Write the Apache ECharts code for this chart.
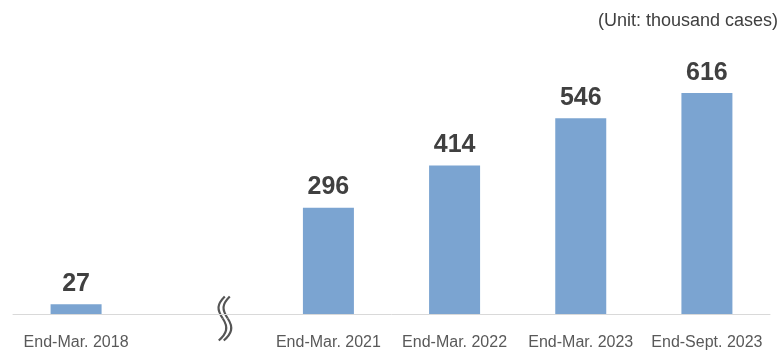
<!DOCTYPE html>
<html>
<head>
<meta charset="utf-8">
<script src="https://cdn.jsdelivr.net/npm/echarts@6/dist/echarts.min.js"></script>
<style>
  html, body { margin: 0; padding: 0; background: #fff; }
  #chart { width: 782px; height: 351px; }
</style>
</head>
<body>
<div id="chart"></div>
<script>
// Period-end labels; the empty slot marks the omitted years (axis break)
const categories = ['End-Mar. 2018', '', 'End-Mar. 2021', 'End-Mar. 2022', 'End-Mar. 2023', 'End-Sept. 2023'];
// Number of cases, thousands
const cases = [27, null, 296, 414, 546, 616];
const unitNote = '(Unit: thousand cases)';

const chart = echarts.init(document.getElementById('chart'));

// one wavy stroke of the break symbol, shifted by dx
function wave(dx) {
  const s = { stroke: '#555555', lineWidth: 2.2, fill: 'none' };
  return [
    { type: 'bezierCurve', shape: { x1: 10 + dx, y1: 0, cpx1: 2 + dx, cpy1: 8, cpx2: 2 + dx, cpy2: 13, x2: 8 + dx, y2: 22 }, style: s },
    { type: 'bezierCurve', shape: { x1: 8 + dx, y1: 22, cpx1: 14 + dx, cpy1: 31, cpx2: 12 + dx, cpy2: 37, x2: 4 + dx, y2: 44 }, style: s }
  ];
}

chart.setOption({
  animation: false,
  textStyle: { fontFamily: 'Liberation Sans, Arial, sans-serif' },
  grid: { left: 13, right: 12, top: 63, bottom: 36 },
  xAxis: {
    type: 'category',
    data: categories,
    axisLine: { lineStyle: { color: '#d9d9d9', width: 1 } },
    axisTick: { show: false },
    axisLabel: { color: '#595959', fontSize: 16, margin: 21, interval: 0 }
  },
  yAxis: {
    type: 'value',
    min: 0,
    max: 700,
    show: false
  },
  series: [{
    type: 'bar',
    data: cases,
    barWidth: 51,
    itemStyle: { color: '#7ba4d1' },
    label: {
      show: true,
      position: 'top',
      distance: 8,
      color: '#404040',
      fontSize: 25,
      fontWeight: 'bold'
    }
  }],
  graphic: [
    {
      type: 'text',
      right: 4,
      top: 12,
      style: { text: unitNote, fill: '#404040', fontSize: 18, fontFamily: 'Liberation Sans, Arial, sans-serif' }
    },
    // break symbol on the axis: white backing plus two wavy strokes
    {
      type: 'group',
      left: 216,
      top: 294,
      children: [
        { type: 'rect', shape: { x: 6, y: 18, width: 10, height: 6 }, style: { fill: '#fff' } }
      ].concat(wave(0), wave(5))
    }
  ]
});
</script>
</body>
</html>
